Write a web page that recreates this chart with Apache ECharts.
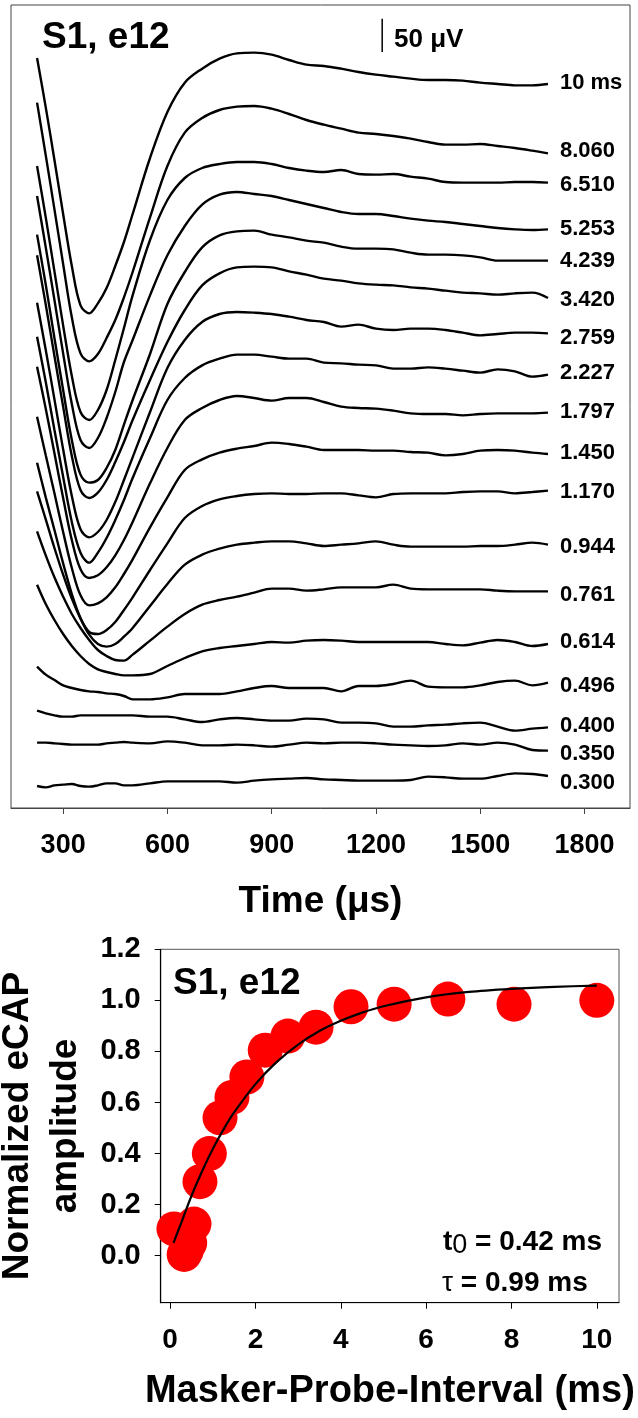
<!DOCTYPE html>
<html><head><meta charset="utf-8">
<script src="https://cdn.jsdelivr.net/npm/echarts@6/dist/echarts.min.js"></script>
<style>html,body{margin:0;padding:0;background:#fff}#c{width:638px;height:1418px}</style>
</head><body><div id="c"></div>
<script>
// ---------- top panel: eCAP traces (µV, relative to each trace's final value) ----------
const times = [225,250,275,300,325,350,375,400,425,450,475,500,550,600,650,700,750,800,850,900,950,1000,1050,1100,1150,1200,1250,1300,1350,1400,1450,1500,1550,1600,1650,1695];
const traceLabels = ['10 ms','8.060','6.510','5.253','4.239','3.420','2.759','2.227','1.797','1.450','1.170','0.944','0.761','0.614','0.496','0.400','0.350','0.300'];
// baseline (display offset) of each trace, µV
const traceOffsets = [1086, 982, 938, 868, 821, 765, 712, 650, 593, 531, 476, 395, 325, 246, 188, 121, 86, 48];
const ecap10000 = [39,-35,-114,-195,-273,-332,-344,-329,-306,-273,-237,-195,-111,-42,2,23,38,46,47,44,36,29,27,23,18,14,11,8,6,6,5,2,0,-2,-2,0];
const ecap8060 = [76,-3,-84,-166,-246,-300,-312,-301,-277,-250,-216,-178,-96,-19,31,53,65,70,71,67,59,50,43,37,31,29,26,22,17,13,13,14,11,8,4,0];
const ecap6510 = [25,-52,-133,-214,-290,-344,-356,-341,-311,-266,-218,-169,-86,-26,7,22,28,31,31,28,22,18,16,19,13,12,13,9,6,1,0,0,0,1,1,0];
const ecap5253 = [50,-27,-106,-186,-262,-316,-328,-313,-283,-244,-199,-166,-99,-39,5,37,52,56,53,50,44,38,32,26,23,23,20,16,13,11,8,5,2,0,-1,0];
const ecap4239 = [39,-36,-116,-194,-269,-321,-333,-329,-311,-284,-246,-209,-140,-65,-17,20,38,44,45,39,35,30,27,21,18,18,17,12,9,9,8,5,0,0,0,0];
const ecap3420 = [64,-10,-87,-163,-237,-288,-300,-292,-273,-246,-216,-183,-123,-66,-18,19,37,46,47,46,40,35,29,26,22,20,19,16,14,11,8,7,5,7,8,0];
const ecap2759 = [46,-25,-99,-174,-244,-294,-306,-298,-280,-253,-220,-186,-118,-52,-10,17,29,32,31,29,25,20,17,10,13,7,5,7,7,5,1,-3,-1,1,1,0];
const ecap2227 = [57,-11,-83,-153,-221,-267,-282,-267,-245,-218,-188,-155,-95,-38,-5,14,24,30,30,27,24,24,18,17,15,14,9,9,11,9,6,3,8,5,-3,0];
const ecap1797 = [69,6,-61,-128,-191,-235,-248,-244,-232,-214,-191,-164,-106,-53,-11,7,19,25,22,18,22,22,16,9,7,6,3,-1,-2,-2,-4,-2,-1,-1,-1,0];
const ecap1450 = [56,-2,-59,-117,-171,-212,-227,-224,-215,-200,-180,-158,-110,-65,-24,-8,2,8,12,17,15,11,6,6,6,5,5,3,2,-2,0,5,6,5,2,0];
const ecap1170 = [42,-10,-59,-109,-155,-191,-212,-215,-209,-197,-179,-160,-119,-79,-41,-23,-13,-8,-5,-4,-5,-5,-4,-4,-7,-10,-5,-4,-4,-4,-2,-1,-1,-4,-2,0];
const ecap0944 = [80,38,-5,-45,-81,-111,-135,-149,-153,-149,-138,-125,-92,-59,-30,-15,-6,0,3,5,5,2,-2,0,2,5,0,-3,-3,-3,-3,-2,-2,0,3,0];
const ecap0761 = [90,54,21,-8,-34,-55,-73,-88,-97,-103,-104,-95,-74,-53,-34,-20,-13,-8,-2,4,4,1,3,6,6,6,10,4,3,3,3,3,1,0,0,0];
const ecap0614 = [89,60,36,15,-3,-18,-30,-38,-42,-45,-47,-47,-45,-33,-21,-11,-6,-3,0,3,2,5,6,5,3,3,3,3,3,0,-2,2,6,3,-3,0];
const ecap0496 = [24,12,4,-4,-8,-11,-13,-14,-16,-17,-20,-25,-25,-22,-17,-17,-17,-13,-8,-5,-8,-8,-8,-13,-5,-5,-2,3,-6,-7,-7,-4,1,3,-4,0];
const ecap0400 = [25,21,18,16,16,18,18,18,18,18,18,18,16,16,12,8,12,14,12,10,10,13,12,7,7,6,1,1,3,4,6,7,1,-5,-2,0];
const ecap0350 = [12,12,11,10,9,9,9,9,11,12,13,12,11,14,12,8,8,9,8,6,9,12,11,12,12,11,9,8,7,8,11,9,12,9,1,0];
const ecap0300 = [-15,-17,-14,-13,-12,-15,-16,-14,-11,-11,-14,-14,-11,-8,-8,-8,-8,-10,-7,-5,-4,-3,-5,-6,-7,-7,-7,-6,-1,-2,-4,-4,0,4,3,0];
const traces = [ecap10000,ecap8060,ecap6510,ecap5253,ecap4239,ecap3420,ecap2759,ecap2227,ecap1797,ecap1450,ecap1170,ecap0944,ecap0761,ecap0614,ecap0496,ecap0400,ecap0350,ecap0300];
const timeTicks = [300,600,900,1200,1500,1800];
const scaleBarTime = 1218, scaleBarBase = 1134, scaleBarHeight = 50; // µV

// ---------- bottom panel: recovery function (positions) ----------
const mpiMs = [0.09,0.33,0.38,0.46,0.56,0.70,0.92,1.17,1.45,1.80,2.23,2.76,3.42,4.24,5.25,6.51,8.06,10.0];
const normAmp = [0.105,0.005,0.02,0.05,0.124,0.29,0.40,0.54,0.62,0.70,0.805,0.86,0.895,0.975,0.985,1.005,0.985,1.00];
const fitX = [0.08,0.25,0.5,0.75,1.0,1.25,1.5,2.0,2.5,3.0,3.5,4.0,4.5,5.0,6.0,7.0,8.0,9.0,10.0];
const fitY = [0.05,0.124,0.234,0.331,0.418,0.494,0.561,0.672,0.759,0.827,0.880,0.920,0.952,0.977,1.012,1.033,1.045,1.053,1.058];
const mpiTicks = [0,2,4,6,8,10];
const ampTicks = [0,0.2,0.4,0.6,0.8,1.0,1.2];

// label nudges (layout only)
const labelNudge = [-1,-2,2,0,0,2,5,-2,-1,-1,1,2,4,-2,3,-1,3,7];

const FONT = "'Liberation Sans', Arial, sans-serif";
const chart = echarts.init(document.getElementById('c'), null, {renderer:'canvas'});

const series = traces.map((tr, i) => ({
  type:'line', xAxisIndex:0, yAxisIndex:0, name: traceLabels[i],
  data: times.map((t, j) => [t, traceOffsets[i] + tr[j]]),
  smooth: 0.35, symbol:'none', silent:true,
  lineStyle:{color:'#000', width:2.4},
  endLabel:{show:true, formatter: traceLabels[i], distance:12, offset:[0, labelNudge[i]],
    color:'#000', fontFamily:FONT, fontWeight:'bold', fontSize:22}
}));
series.push({
  type:'line', xAxisIndex:0, yAxisIndex:0, symbol:'none', silent:true,
  data:[[scaleBarTime, scaleBarBase],[scaleBarTime, scaleBarBase+scaleBarHeight]],
  lineStyle:{color:'#000', width:1.5}
});
series.push({
  type:'scatter', xAxisIndex:1, yAxisIndex:1, symbol:'circle', symbolSize:35, silent:true,
  data: mpiMs.map((m,i)=>[m, normAmp[i]]),
  itemStyle:{color:'#ff0000', opacity:1}, z:2
});
series.push({
  type:'line', xAxisIndex:1, yAxisIndex:1, symbol:'none', silent:true, smooth:0.3,
  data: fitX.map((x,i)=>[x, fitY[i]]),
  lineStyle:{color:'#000', width:2.2}, z:3
});

const axisName = {color:'#000', fontFamily:FONT, fontWeight:'bold', fontSize:37, lineHeight:37};
const tickLbl = (sz) => ({color:'#000', fontFamily:FONT, fontWeight:'bold', fontSize:sz});

chart.setOption({
  animation:false,
  backgroundColor:'#fff',
  grid:[
    {left:11, top:5, width:619, height:803, show:true, borderColor:'#444', borderWidth:1, containLabel:false, outerBoundsMode:'none'},
    {left:160.7, top:949.3, width:458.3, height:353.4, show:true, borderColor:'#555', borderWidth:1, containLabel:false, outerBoundsMode:'none'}
  ],
  xAxis:[
    {type:'value', gridIndex:0, min:150, max:1931,
     axisLine:{show:true, lineStyle:{color:'#444', width:1}},
     axisTick:{show:true, inside:false, length:6, customValues:timeTicks, lineStyle:{color:'#444'}},
     axisLabel:{show:true, customValues:timeTicks, margin:24, formatter:(v)=>String(v), ...tickLbl(27)},
     splitLine:{show:false},
     name:'Time (\u03bcs)', nameLocation:'middle', nameGap:75, nameTextStyle:axisName},
    {type:'value', gridIndex:1, min:-0.22, max:10.52,
     axisLine:{show:true, onZero:false, lineStyle:{color:'#000', width:1.2}},
     axisTick:{show:true, inside:false, length:6, customValues:mpiTicks, lineStyle:{color:'#000'}},
     axisLabel:{show:true, customValues:mpiTicks, margin:24, formatter:(v)=>String(v), ...tickLbl(28)},
     splitLine:{show:false},
     name:'Masker-Probe-Interval (ms)', nameLocation:'middle', nameGap:70,
     nameTextStyle:{...axisName, fontSize:38, lineHeight:38}}
  ],
  yAxis:[
    {type:'value', gridIndex:0, min:0, max:1204.5, show:false, splitLine:{show:false}},
    {type:'value', gridIndex:1, min:-0.184, max:1.2,
     axisLine:{show:true, onZero:false, lineStyle:{color:'#000', width:1.2}},
     axisTick:{show:true, inside:false, length:6, customValues:ampTicks, lineStyle:{color:'#000'}},
     axisLabel:{show:true, customValues:ampTicks, margin:20, formatter:(v)=>v.toFixed(1), ...tickLbl(29)},
     splitLine:{show:false},
     name:'Normalized eCAP\namplitude', nameLocation:'middle', nameGap:68,
     nameTextStyle:{...axisName, lineHeight:47.5}}
  ],
  graphic:[
    {type:'text', left:42, top:19, silent:true,
     style:{text:'S1, e12', fill:'#000', font:"bold 37px 'Liberation Sans', Arial, sans-serif"}},
    {type:'text', left:394, top:27, silent:true,
     style:{text:'50 \u03bcV', fill:'#000', font:"bold 26px 'Liberation Sans', Arial, sans-serif"}},
    {type:'text', left:173, top:965, silent:true,
     style:{text:'S1, e12', fill:'#000', font:"bold 37px 'Liberation Sans', Arial, sans-serif"}},
    {type:'text', left:443, top:1228, silent:true,
     style:{text:'{a|t}{s|0}{a| = 0.42 ms}', rich:{
       a:{fontFamily:FONT, fontWeight:'bold', fontSize:28, fill:'#000', verticalAlign:'top', lineHeight:32},
       s:{fontFamily:FONT, fontWeight:'normal', fontSize:27, fill:'#000', verticalAlign:'top', padding:[4,0,0,0], lineHeight:32}}}},
    {type:'text', left:442, top:1269, silent:true,
     style:{text:'{g|\u03c4}{a| = 0.99 ms}', rich:{
       g:{fontFamily:FONT, fontWeight:'normal', fontSize:28, fill:'#000'},
       a:{fontFamily:FONT, fontWeight:'bold', fontSize:28, fill:'#000'}}}}
  ],
  series
});
</script></body></html>
